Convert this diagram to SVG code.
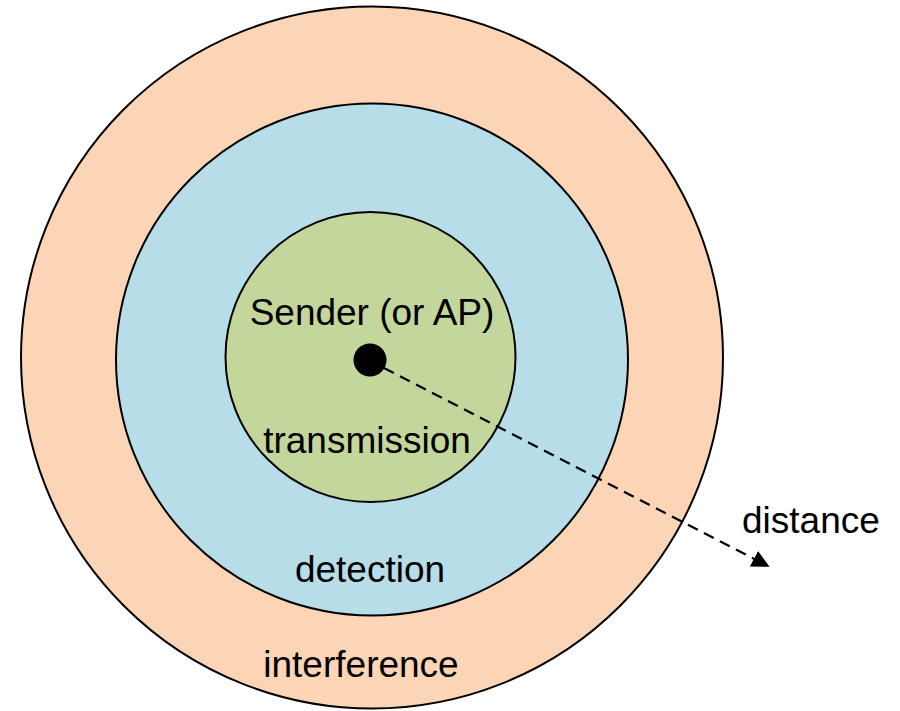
<svg xmlns="http://www.w3.org/2000/svg" width="900" height="711" viewBox="0 0 900 711">
  <style>
    .ring { stroke: #000; stroke-width: 2; }
    .label { font-family: "Liberation Sans", Arial, sans-serif; font-size: 37px; fill: #000; text-anchor: middle; }
    .range { stroke: #000; stroke-width: 2.2; stroke-dasharray: 11 7; fill: none; }
  </style>
  <defs>
    <marker id="arrowhead" viewBox="0 0 10 10" refX="9" refY="5" markerWidth="8" markerHeight="8" markerUnits="strokeWidth" orient="auto">
      <path d="M0,0 L10,5 L0,10 z" fill="#000"/>
    </marker>
  </defs>
  <rect width="900" height="711" fill="#fff"/>

  <g id="interference">
    <circle class="ring" cx="372" cy="357.5" r="351" fill="#FBD5B5"/>
    <text class="label" x="361" y="677">interference</text>
  </g>

  <g id="detection">
    <circle class="ring" cx="372" cy="359.5" r="256" fill="#B7DDE8"/>
    <text class="label" x="370" y="582">detection</text>
  </g>

  <g id="transmission">
    <circle class="ring" cx="370.5" cy="357" r="145" fill="#C3D69B"/>
    <text class="label" x="367" y="453">transmission</text>
  </g>

  <g id="sender">
    <text class="label" x="372" y="325">Sender (or AP)</text>
    <circle cx="370" cy="360" r="16.5" fill="#000"/>
  </g>

  <g id="connectors">
    <line class="range" x1="384" y1="368" x2="768" y2="566" marker-end="url(#arrowhead)"/>
  </g>

  <g id="distance">
    <text class="label" x="742" y="533" style="text-anchor:start">distance</text>
  </g>
</svg>
